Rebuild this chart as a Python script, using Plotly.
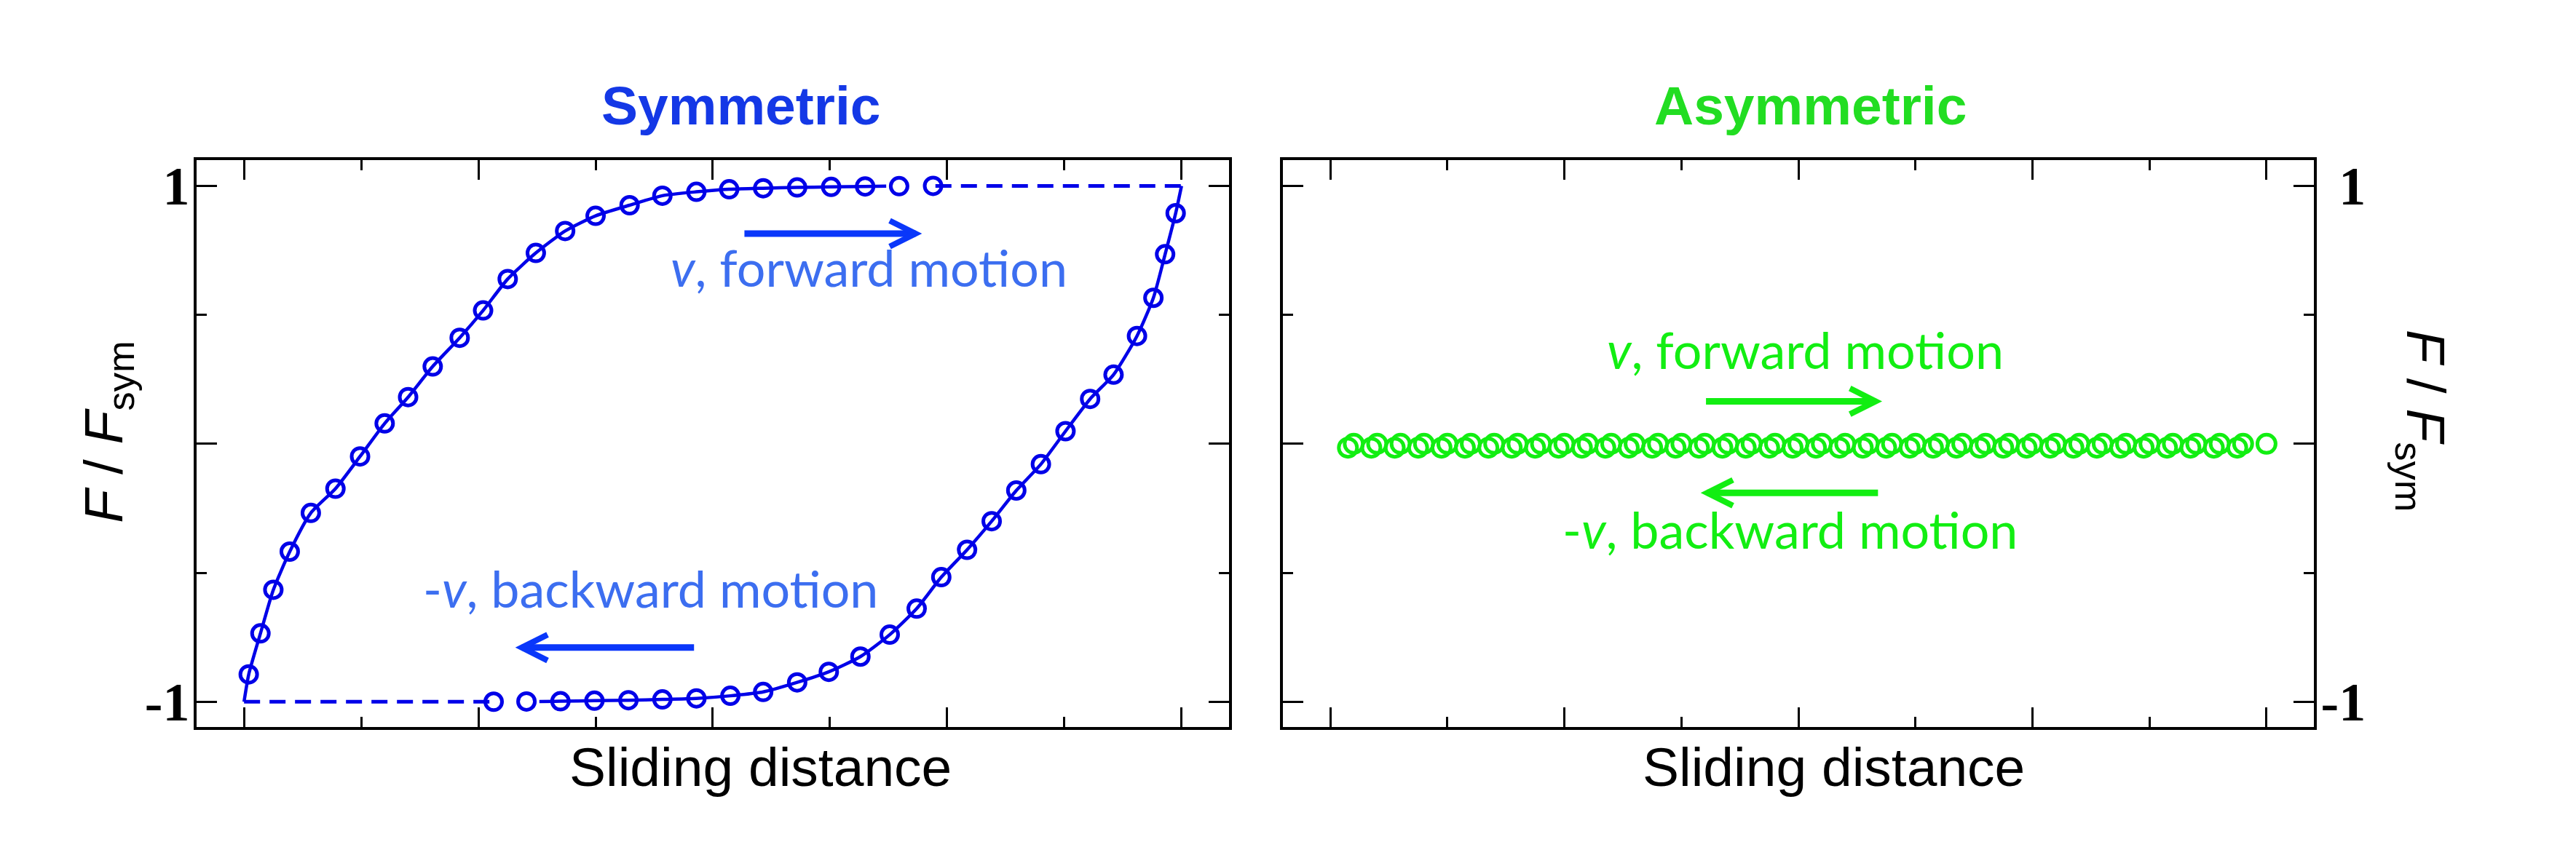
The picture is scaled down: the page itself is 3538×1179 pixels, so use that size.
import plotly.graph_objects as go

# ---------------- data ----------------
# Symmetric panel, forward (upper) branch markers
up_x = [0.04, 0.14, 0.25, 0.39, 0.57, 0.78, 0.99, 1.20, 1.40, 1.61, 1.84, 2.04, 2.25,
        2.49, 2.74, 3.00, 3.29, 3.57, 3.86, 4.14, 4.43, 4.72, 5.01, 5.30, 5.59, 5.88]
up_y = [-0.894, -0.735, -0.566, -0.418, -0.268, -0.174, -0.049, 0.079, 0.181, 0.300,
        0.411, 0.517, 0.639, 0.740, 0.825, 0.884, 0.925, 0.962, 0.977, 0.987, 0.991,
        0.994, 0.996, 0.998, 0.999, 1.000]
# solid curve through the upper branch
up_line_x = [0.00, 0.04, 0.14, 0.25, 0.39, 0.57, 0.78, 0.99, 1.20, 1.40, 1.61, 1.84, 2.04,
             2.25, 2.49, 2.74, 3.00, 3.29, 3.57, 3.86, 4.14, 4.43, 4.72, 5.01, 5.30, 5.48]
up_line_y = [-1.000, -0.894, -0.735, -0.566, -0.418, -0.268, -0.174, -0.049, 0.079, 0.181,
             0.300, 0.411, 0.517, 0.639, 0.740, 0.825, 0.884, 0.925, 0.962, 0.977, 0.987,
             0.991, 0.994, 0.996, 0.998, 0.999]

# Symmetric panel, backward (lower) branch markers
lo_x = [2.13, 2.41, 2.70, 2.99, 3.28, 3.57, 3.86, 4.15, 4.43, 4.72, 4.99, 5.26, 5.51,
        5.74, 5.95, 6.17, 6.38, 6.59, 6.80, 7.01, 7.22, 7.42, 7.62, 7.76, 7.86, 7.95]
lo_y = [-1.000, -0.999, -0.998, -0.996, -0.994, -0.991, -0.987, -0.977, -0.962, -0.925,
        -0.884, -0.825, -0.740, -0.639, -0.517, -0.411, -0.300, -0.181, -0.079, 0.049,
        0.174, 0.268, 0.418, 0.566, 0.735, 0.894]
lo_line_x = [2.52, 2.70, 2.99, 3.28, 3.57, 3.86, 4.15, 4.43, 4.72, 4.99, 5.26, 5.51, 5.74,
             5.95, 6.17, 6.38, 6.59, 6.80, 7.01, 7.22, 7.42, 7.62, 7.76, 7.86, 7.95, 8.00]
lo_line_y = [-0.999, -0.998, -0.996, -0.994, -0.991, -0.987, -0.977, -0.962, -0.925, -0.884,
             -0.825, -0.740, -0.639, -0.517, -0.411, -0.300, -0.181, -0.079, 0.049, 0.174,
             0.268, 0.418, 0.566, 0.735, 0.894, 1.000]

# dashed plateaus
dash_top_x = [5.90, 8.00]
dash_top_y = [1.0, 1.0]
dash_bot_x = [0.00, 2.10]
dash_bot_y = [-1.0, -1.0]

# Asymmetric panel: forward and backward markers (all at F = 0)
asym_fwd_x = [0.20, 0.40, 0.60, 0.80, 1.00, 1.20, 1.40, 1.60, 1.80, 2.00, 2.20, 2.40, 2.60,
              2.80, 3.00, 3.20, 3.40, 3.60, 3.80, 4.00, 4.20, 4.40, 4.60, 4.80, 5.00, 5.20,
              5.40, 5.60, 5.80, 6.00, 6.20, 6.40, 6.60, 6.80, 7.00, 7.20, 7.40, 7.60, 7.80,
              8.00]
asym_fwd_y = [0.0] * 40
asym_bwd_x = [0.15, 0.35, 0.55, 0.75, 0.95, 1.15, 1.35, 1.55, 1.75, 1.95, 2.15, 2.35, 2.55,
              2.75, 2.95, 3.15, 3.35, 3.55, 3.75, 3.95, 4.15, 4.35, 4.55, 4.75, 4.95, 5.15,
              5.35, 5.55, 5.75, 5.95, 6.15, 6.35, 6.55, 6.75, 6.95, 7.15, 7.35, 7.55, 7.75]
asym_bwd_y = [-0.015] * 39

# axis ticks
x_major = [0, 2, 4, 6, 8]
x_minor = [1, 3, 5, 7]
y_major = [-1, 0, 1]
y_major_text_left = ["-1", "", "1"]
y_major_text_right = ["-1", "", "<span style='color:rgba(0,0,0,0)'>-</span>1"]
y_minor = [-0.5, 0.5]

# arrows: (x_tail, x_tip, y)
arrows_sym = [(4.27, 5.73, 0.815), (3.84, 2.37, -0.790)]
arrows_asym = [(3.21, 4.66, 0.165), (4.68, 3.22, -0.190)]

# ---------------- styles ----------------
BLUE_LINE = "#0000E8"
BLUE_ARROW = "#0A37FA"
BLUE_TEXT = "#3C6EF0"
BLUE_TITLE = "#1438E6"
GREEN = "#12EE12"
GREEN_TITLE = "#22DD22"

fig = go.Figure()

# symmetric panel
for xs, ys in [(dash_top_x, dash_top_y), (dash_bot_x, dash_bot_y)]:
    fig.add_trace(go.Scatter(x=xs, y=ys, mode="lines", xaxis="x", yaxis="y",
                             line=dict(color=BLUE_LINE, width=5, dash="22px,13px")))
for xs, ys in [(up_line_x, up_line_y), (lo_line_x, lo_line_y)]:
    fig.add_trace(go.Scatter(x=xs, y=ys, mode="lines", xaxis="x", yaxis="y",
                             line=dict(color=BLUE_LINE, width=4.5, shape="spline", smoothing=0.6)))
for xs, ys in [(up_x, up_y), (lo_x, lo_y)]:
    fig.add_trace(go.Scatter(x=xs, y=ys, mode="markers", xaxis="x", yaxis="y",
                             marker=dict(symbol="circle-open", size=23, color=BLUE_LINE,
                                         line=dict(width=5, color=BLUE_LINE))))

# asymmetric panel
for xs, ys in [(asym_bwd_x, asym_bwd_y), (asym_fwd_x, asym_fwd_y)]:
    fig.add_trace(go.Scatter(x=xs, y=ys, mode="markers", xaxis="x2", yaxis="y2",
                             marker=dict(symbol="circle-open", size=25, color=GREEN,
                                         line=dict(width=5, color=GREEN))))

# arrows as shapes
HEAD_DX = 0.22
HEAD_DY = 0.05
shapes = []
for arrows, xr, yr, col in [(arrows_sym, "x", "y", BLUE_ARROW), (arrows_asym, "x2", "y2", GREEN)]:
    for x0, x1, yy in arrows:
        d = 1 if x1 > x0 else -1
        shapes.append(dict(type="path", xref=xr, yref=yr,
                           path=f"M {x0},{yy} L {x1},{yy}",
                           line=dict(color=col, width=9)))
        shapes.append(dict(type="path", xref=xr, yref=yr,
                           path=f"M {x1 - d * HEAD_DX},{yy + HEAD_DY} L {x1},{yy} L {x1 - d * HEAD_DX},{yy - HEAD_DY}",
                           line=dict(color=col, width=8)))

TXT_FONT = "Lato, 'Open Sans', sans-serif"
SANS = "'Liberation Sans', Arial, sans-serif"
annotations = [
    dict(text="<i>v</i>, forward motion", x=5.33, y=0.685, xref="x", yref="y",
         showarrow=False, xanchor="center", yanchor="middle",
         font=dict(family=TXT_FONT, size=70, color=BLUE_TEXT)),
    dict(text="-<i>v</i>, backward motion", x=3.47, y=-0.560, xref="x", yref="y",
         showarrow=False, xanchor="center", yanchor="middle",
         font=dict(family=TXT_FONT, size=70, color=BLUE_TEXT)),
    dict(text="<i>v</i>, forward motion", x=4.06, y=0.365, xref="x2", yref="y2",
         showarrow=False, xanchor="center", yanchor="middle",
         font=dict(family=TXT_FONT, size=70, color=GREEN)),
    dict(text="-<i>v</i>, backward motion", x=3.93, y=-0.330, xref="x2", yref="y2",
         showarrow=False, xanchor="center", yanchor="middle",
         font=dict(family=TXT_FONT, size=70, color=GREEN)),
    dict(text="<b>Symmetric</b>", x=4.24, y=1.096, xref="x", yref="paper",
         showarrow=False, xanchor="center", yanchor="middle",
         font=dict(family=SANS, size=75, color=BLUE_TITLE)),
    dict(text="<b>Asymmetric</b>", x=4.10, y=1.096, xref="x2", yref="paper",
         showarrow=False, xanchor="center", yanchor="middle",
         font=dict(family=SANS, size=75, color=GREEN_TITLE)),
    dict(text="Sliding distance", x=4.41, y=-0.0706, xref="x", yref="paper",
         showarrow=False, xanchor="center", yanchor="middle",
         font=dict(family=SANS, size=75, color="black")),
    dict(text="Sliding distance", x=4.30, y=-0.0706, xref="x2", yref="paper",
         showarrow=False, xanchor="center", yanchor="middle",
         font=dict(family=SANS, size=75, color="black")),
    dict(text="<i>F</i> / <i>F</i><sub>sym</sub>", x=-0.042, y=0.52, xref="paper", yref="paper",
         showarrow=False, xanchor="center", yanchor="middle", textangle=-90,
         font=dict(family=SANS, size=75, color="black")),
    dict(text="<i>F</i> / <i>F</i><sub>sym</sub>", x=1.051, y=0.54, xref="paper", yref="paper",
         showarrow=False, xanchor="center", yanchor="middle", textangle=90,
         font=dict(family=SANS, size=75, color="black")),
]

def xaxis_cfg(domain, anchor):
    return dict(domain=domain, anchor=anchor, range=[-0.405, 8.405], showline=True,
                linewidth=3.5, linecolor="black", mirror="ticks", ticks="inside",
                tickmode="array", tickvals=x_major, ticklen=27, tickwidth=3, tickcolor="black",
                showticklabels=False, showgrid=False, zeroline=False,
                minor=dict(tickvals=x_minor, ticklen=14, tickwidth=3, tickcolor="black",
                           ticks="inside", showgrid=False))

def yaxis_cfg(anchor, side, ticktext):
    return dict(anchor=anchor, side=side, domain=[0, 1], range=[-1.098, 1.1], showline=True,
                linewidth=3.5, linecolor="black", mirror="ticks", ticks="inside",
                tickmode="array", tickvals=y_major, ticktext=ticktext, ticklen=28, tickwidth=3,
                tickcolor="black", ticklabelstandoff=-9,
                tickfont=dict(family="'Liberation Serif', 'Times New Roman', serif", size=74,
                              color="black", weight="bold"),
                showgrid=False, zeroline=False,
                minor=dict(tickvals=y_minor, ticklen=14, tickwidth=3, tickcolor="black",
                           ticks="inside", showgrid=False))

fig.update_layout(
    width=3538, height=1179,
    margin=dict(l=262, r=368, t=212, b=188),
    paper_bgcolor="white", plot_bgcolor="white",
    showlegend=False,
    xaxis=xaxis_cfg([0, 0.4876], "y"),
    xaxis2=xaxis_cfg([0.5131, 1], "y2"),
    yaxis=yaxis_cfg("x", "left", y_major_text_left),
    yaxis2=yaxis_cfg("x2", "right", y_major_text_right),
    shapes=shapes,
    annotations=annotations,
)

fig.write_html("out.html")
